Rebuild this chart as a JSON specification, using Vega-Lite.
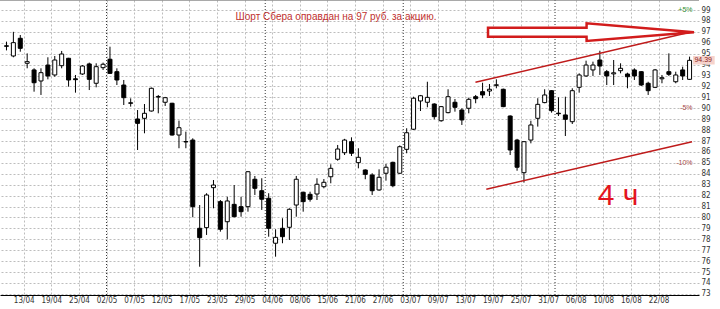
{
  "$schema": "https://vega.github.io/schema/vega-lite/v6.json",
  "width": 699,
  "height": 295,
  "autosize": "none",
  "padding": {"left": 0, "top": 0, "right": 21, "bottom": 14},
  "background": "white",
  "config": {
    "view": {"stroke": null},
    "font": "Liberation Sans",
    "axis": {"labelOverlap": false, "labelFlush": false, "ticks": false, "title": null}
  },
  "datasets": {
    "candles": [
      {"i":0,"o":95.72,"h":96.1,"l":95.3,"c":95.68},
      {"i":1,"o":94.79,"h":97.0,"l":94.67,"c":96.01},
      {"i":2,"o":96.41,"h":96.71,"l":95.18,"c":95.49},
      {"i":3,"o":94.12,"h":95.03,"l":93.66,"c":94.27},
      {"i":4,"o":93.51,"h":93.66,"l":91.52,"c":92.34},
      {"i":5,"o":92.5,"h":93.66,"l":91.22,"c":93.26},
      {"i":6,"o":93.96,"h":94.67,"l":92.65,"c":92.96},
      {"i":7,"o":93.05,"h":94.79,"l":92.89,"c":94.42},
      {"i":8,"o":93.9,"h":95.25,"l":93.66,"c":94.97},
      {"i":9,"o":94.58,"h":94.62,"l":91.98,"c":92.59},
      {"i":10,"o":92.7,"h":93.05,"l":91.43,"c":92.62},
      {"i":11,"o":93.14,"h":93.96,"l":93.05,"c":93.87},
      {"i":12,"o":94.06,"h":94.18,"l":91.67,"c":92.65},
      {"i":13,"o":92.29,"h":94.12,"l":91.92,"c":93.81},
      {"i":14,"o":93.72,"h":94.18,"l":93.51,"c":94.03},
      {"i":15,"o":94.49,"h":95.64,"l":93.14,"c":93.2},
      {"i":16,"o":93.35,"h":93.66,"l":92.13,"c":92.59},
      {"i":17,"o":92.13,"h":92.59,"l":90.3,"c":90.97},
      {"i":18,"o":90.5,"h":90.91,"l":90.15,"c":90.46},
      {"i":19,"o":89.02,"h":89.84,"l":86.18,"c":88.62},
      {"i":20,"o":89.08,"h":90.39,"l":87.71,"c":89.54},
      {"i":21,"o":89.75,"h":91.9,"l":89.7,"c":91.83},
      {"i":22,"o":91.02,"h":91.22,"l":89.54,"c":91.08},
      {"i":23,"o":90.55,"h":91.04,"l":90.21,"c":90.97},
      {"i":24,"o":90.46,"h":90.5,"l":87.5,"c":87.55},
      {"i":25,"o":87.55,"h":88.87,"l":86.34,"c":88.22},
      {"i":26,"o":86.95,"h":87.86,"l":86.34,"c":86.92},
      {"i":27,"o":87.09,"h":87.25,"l":80.02,"c":80.99},
      {"i":28,"o":79.01,"h":81.14,"l":75.49,"c":78.15},
      {"i":29,"o":79.07,"h":82.22,"l":78.4,"c":82.06},
      {"i":30,"o":82.73,"h":83.43,"l":80.84,"c":82.97},
      {"i":31,"o":81.45,"h":81.6,"l":78.7,"c":78.92},
      {"i":32,"o":79.61,"h":81.9,"l":78.0,"c":81.51},
      {"i":33,"o":81.2,"h":82.97,"l":80.02,"c":80.07},
      {"i":34,"o":80.99,"h":81.9,"l":80.07,"c":80.53},
      {"i":35,"o":80.99,"h":84.25,"l":80.53,"c":84.19},
      {"i":36,"o":83.5,"h":83.8,"l":82.06,"c":82.67},
      {"i":37,"o":82.45,"h":83.59,"l":80.69,"c":81.67},
      {"i":38,"o":81.76,"h":82.22,"l":78.24,"c":79.01},
      {"i":39,"o":77.64,"h":78.92,"l":76.41,"c":78.18},
      {"i":40,"o":79.01,"h":79.93,"l":77.64,"c":78.24},
      {"i":41,"o":79.1,"h":80.84,"l":77.94,"c":80.75},
      {"i":42,"o":81.14,"h":83.8,"l":80.07,"c":83.5},
      {"i":43,"o":82.31,"h":82.36,"l":80.53,"c":81.45},
      {"i":44,"o":82.12,"h":82.36,"l":81.45,"c":81.67},
      {"i":45,"o":82.15,"h":83.59,"l":81.6,"c":83.04},
      {"i":46,"o":82.82,"h":83.52,"l":82.67,"c":83.22},
      {"i":47,"o":83.73,"h":84.87,"l":83.13,"c":84.5},
      {"i":48,"o":85.33,"h":86.64,"l":85.2,"c":86.27},
      {"i":49,"o":85.93,"h":87.2,"l":85.72,"c":87.09},
      {"i":50,"o":86.94,"h":87.34,"l":85.63,"c":85.88},
      {"i":51,"o":85.02,"h":86.34,"l":84.5,"c":85.51},
      {"i":52,"o":84.35,"h":84.41,"l":83.5,"c":83.95},
      {"i":53,"o":83.89,"h":84.05,"l":82.06,"c":82.45},
      {"i":54,"o":82.52,"h":84.41,"l":82.45,"c":83.68},
      {"i":55,"o":84.05,"h":84.9,"l":83.37,"c":84.6},
      {"i":56,"o":85.05,"h":85.11,"l":82.77,"c":82.91},
      {"i":57,"o":84.05,"h":86.6,"l":84.0,"c":86.48},
      {"i":58,"o":86.24,"h":88.17,"l":85.88,"c":87.76},
      {"i":59,"o":88.08,"h":91.06,"l":88.01,"c":90.92},
      {"i":60,"o":90.67,"h":91.22,"l":89.75,"c":91.15},
      {"i":61,"o":90.55,"h":92.43,"l":90.09,"c":91.0},
      {"i":62,"o":90.39,"h":90.46,"l":88.99,"c":89.23},
      {"i":63,"o":88.86,"h":90.21,"l":88.77,"c":90.15},
      {"i":64,"o":89.6,"h":91.74,"l":89.54,"c":91.06},
      {"i":65,"o":90.55,"h":90.85,"l":89.69,"c":90.09},
      {"i":66,"o":89.84,"h":90.0,"l":88.47,"c":88.93},
      {"i":67,"o":90.0,"h":90.97,"l":89.54,"c":90.82},
      {"i":68,"o":91.06,"h":91.22,"l":90.46,"c":90.88},
      {"i":69,"o":91.52,"h":92.34,"l":90.92,"c":91.22},
      {"i":70,"o":91.58,"h":92.22,"l":91.13,"c":91.74},
      {"i":71,"o":92.1,"h":92.65,"l":91.83,"c":92.15},
      {"i":72,"o":91.74,"h":91.8,"l":90.1,"c":90.15},
      {"i":73,"o":89.29,"h":89.35,"l":85.72,"c":86.18},
      {"i":74,"o":87.09,"h":87.2,"l":84.28,"c":84.6},
      {"i":75,"o":84.1,"h":87.0,"l":83.19,"c":86.94},
      {"i":76,"o":87.09,"h":88.86,"l":86.79,"c":88.47},
      {"i":77,"o":89.08,"h":90.92,"l":88.32,"c":90.36},
      {"i":78,"o":90.52,"h":91.74,"l":90.46,"c":91.22},
      {"i":79,"o":91.61,"h":91.66,"l":89.6,"c":89.78},
      {"i":80,"o":89.55,"h":91.0,"l":89.29,"c":89.5},
      {"i":81,"o":89.39,"h":91.06,"l":87.46,"c":88.99},
      {"i":82,"o":88.77,"h":91.83,"l":88.56,"c":91.61},
      {"i":83,"o":91.92,"h":93.2,"l":91.43,"c":93.05},
      {"i":84,"o":92.96,"h":94.36,"l":92.89,"c":93.96},
      {"i":85,"o":93.51,"h":94.27,"l":92.96,"c":93.96},
      {"i":86,"o":94.42,"h":95.27,"l":93.05,"c":93.87},
      {"i":87,"o":93.35,"h":93.51,"l":92.13,"c":92.96},
      {"i":88,"o":93.15,"h":94.42,"l":92.13,"c":93.25},
      {"i":89,"o":93.44,"h":94.12,"l":93.2,"c":93.66},
      {"i":90,"o":93.14,"h":93.26,"l":91.83,"c":92.89},
      {"i":91,"o":93.51,"h":93.66,"l":92.59,"c":92.96},
      {"i":92,"o":93.35,"h":93.4,"l":92.04,"c":92.13},
      {"i":93,"o":92.29,"h":92.43,"l":91.22,"c":91.61},
      {"i":94,"o":91.92,"h":93.6,"l":91.85,"c":93.51},
      {"i":95,"o":92.7,"h":93.05,"l":92.29,"c":92.8},
      {"i":96,"o":93.35,"h":95.03,"l":92.96,"c":93.11},
      {"i":97,"o":92.43,"h":93.35,"l":92.29,"c":93.05},
      {"i":98,"o":93.51,"h":93.81,"l":92.59,"c":92.96},
      {"i":99,"o":92.65,"h":94.73,"l":92.59,"c":94.39}
    ],
    "months": [{"i":14.5},{"i":37.5},{"i":57.5},{"i":79.5}],
    "trend": [
      {"line":"upper","i":67.97,"v":92.38},
      {"line":"upper","i":99.36,"v":97.01},
      {"line":"lower","i":69.54,"v":82.58},
      {"line":"lower","i":99.36,"v":86.94}
    ],
    "arrow": [
      {"i":69.79,"top":97.38,"bot":96.56},
      {"i":84.07,"top":97.38,"bot":96.56},
      {"i":84.08,"top":97.78,"bot":96.16},
      {"i":99.64,"top":96.96,"bot":96.96}
    ],
    "pct": [
      {"txt":"+5%","i":99.43,"v":99.0,"kind":"up"},
      {"txt":"-5%","i":99.43,"v":90.03,"kind":"down"},
      {"txt":"-10%","i":99.43,"v":84.99,"kind":"down"}
    ]
  },
  "layer": [
    {
      "data": {"name": "candles"},
      "mark": {"type": "rule", "color": "#000000", "strokeWidth": 1},
      "encoding": {
        "x": {"field": "i", "type": "quantitative",
              "scale": {"domain": [-0.2143, 99.643], "nice": false, "zero": false},
              "axis": {"orient": "bottom", "title": null, "tickCount": 500,
                       "values": [2.5,6.5,10.5,14.5,18.5,22.5,26.5,30.5,34.5,38.5,42.5,46.5,50.5,54.5,58.5,62.5,66.5,70.5,74.5,78.5,82.5,86.5,90.5,94.5],
                       "labelExpr": "['13/04','19/04','25/04','02/05','07/05','12/05','17/05','23/05','29/05','04/06','08/06','15/06','21/06','27/06','03/07','09/07','13/07','19/07','25/07','31/07','06/08','10/08','16/08','22/08'][round((datum.value-2.5)/4)]",
                       "labelFont": "Liberation Sans Narrow, DejaVu Sans Condensed, Liberation Sans",
                       "labelFontSize": 8, "labelColor": "#333333", "labelPadding": 1,
                       "labelOverlap": false, "labelFlush": false,
                       "ticks": false, "domain": true, "domainColor": "#000000", "domainWidth": 1,
                       "grid": true, "gridColor": "#bdbdbd", "gridDash": [2, 2], "gridWidth": 1}},
        "y": {"field": "l", "type": "quantitative",
              "scale": {"domain": [72.90, 99.916], "nice": false, "zero": false},
              "axis": {"orient": "right", "title": null, "tickCount": 500, "format": "d",
                       "values": [73,74,75,76,77,78,79,80,81,82,83,84,85,86,87,88,89,90,91,92,93,94,95,96,97,98,99],
                       "labelFont": "Liberation Sans Narrow, DejaVu Sans Condensed, Liberation Sans",
                       "labelFontSize": 8, "labelColor": "#333333", "labelPadding": 2,
                       "labelOverlap": false, "labelFlush": false,
                       "ticks": false, "domain": false,
                       "grid": true, "gridColor": "#bdbdbd", "gridDash": [2, 2], "gridWidth": 1}},
        "y2": {"field": "h"}
      }
    },
    {
      "data": {"name": "months"},
      "mark": {"type": "rule", "color": "#333333", "strokeDash": [1, 2], "strokeWidth": 1},
      "encoding": {
        "x": {"field": "i", "type": "quantitative"}
      }
    },
    {
      "data": {"values": [{"v": 99.9}]},
      "mark": {"type": "rule", "color": "#808080", "strokeWidth": 1},
      "encoding": {
        "y": {"field": "v", "type": "quantitative"}
      }
    },
    {
      "data": {"name": "candles"},
      "mark": {"type": "bar", "size": 4, "stroke": "#000000", "strokeWidth": 1},
      "encoding": {
        "x": {"field": "i", "type": "quantitative"},
        "y": {"field": "o", "type": "quantitative"},
        "y2": {"field": "c"},
        "fill": {"condition": {"test": "datum.c >= datum.o", "value": "#ffffff"}, "value": "#000000"}
      }
    },
    {
      "data": {"name": "trend"},
      "mark": {"type": "line", "color": "#bf1b1b", "strokeWidth": 1.5},
      "encoding": {
        "x": {"field": "i", "type": "quantitative"},
        "y": {"field": "v", "type": "quantitative"},
        "detail": {"field": "line"}
      }
    },
    {
      "data": {"name": "arrow"},
      "mark": {"type": "area", "fill": "#ffffff", "stroke": "#d21c1c", "strokeWidth": 2.5, "fillOpacity": 1},
      "encoding": {
        "x": {"field": "i", "type": "quantitative"},
        "y": {"field": "top", "type": "quantitative"},
        "y2": {"field": "bot"}
      }
    },
    {
      "data": {"values": [{"txt": "Шорт Сбера оправдан на 97 руб. за акцию.", "i": 33.21, "v": 98.04}]},
      "mark": {"type": "text", "align": "left", "baseline": "alphabetic", "fontSize": 10, "font": "Liberation Sans", "color": "#c0302e"},
      "encoding": {
        "x": {"field": "i", "type": "quantitative"},
        "y": {"field": "v", "type": "quantitative"},
        "text": {"field": "txt"}
      }
    },
    {
      "data": {"values": [{"txt": "4 ч", "i": 88.64, "v": 81.14}]},
      "mark": {"type": "text", "align": "center", "baseline": "alphabetic", "fontSize": 30, "font": "Liberation Sans", "color": "#e3141e"},
      "encoding": {
        "x": {"field": "i", "type": "quantitative"},
        "y": {"field": "v", "type": "quantitative"},
        "text": {"field": "txt"}
      }
    },
    {
      "data": {"name": "pct"},
      "mark": {"type": "text", "align": "right", "baseline": "middle", "fontSize": 7, "font": "Liberation Sans"},
      "encoding": {
        "x": {"field": "i", "type": "quantitative"},
        "y": {"field": "v", "type": "quantitative"},
        "text": {"field": "txt"},
        "color": {"field": "kind", "type": "nominal", "scale": {"domain": ["up", "down"], "range": ["#2f8f2f", "#a84848"]}, "legend": null}
      }
    },
    {
      "data": {"values": [{"i": 99.5, "i2": 102.64, "v": 94.79, "v2": 94.01}]},
      "mark": {"type": "rect", "color": "#f6d3cc"},
      "encoding": {
        "x": {"field": "i", "type": "quantitative"},
        "x2": {"field": "i2"},
        "y": {"field": "v", "type": "quantitative"},
        "y2": {"field": "v2"}
      }
    },
    {
      "data": {"values": [{"txt": "94.39", "i": 99.71, "v": 94.39}]},
      "mark": {"type": "text", "align": "left", "baseline": "middle", "fontSize": 7, "font": "Liberation Sans", "color": "#8a1c1c"},
      "encoding": {
        "x": {"field": "i", "type": "quantitative"},
        "y": {"field": "v", "type": "quantitative"},
        "text": {"field": "txt"}
      }
    }
  ]
}
